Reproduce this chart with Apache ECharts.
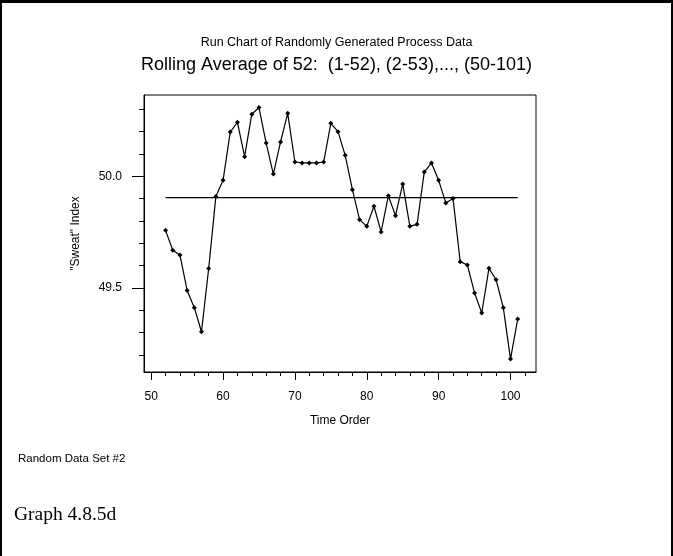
<!DOCTYPE html>
<html>
<head>
<meta charset="utf-8">
<script src="https://cdn.jsdelivr.net/npm/echarts@6/dist/echarts.min.js"></script>
<style>
  html, body { margin: 0; padding: 0; background: #fff; }
  #chart { width: 673px; height: 556px; }
</style>
</head>
<body>
<div id="chart"></div>
<script>
// time order of each rolling average (52 = samples 1-52 ... 101 = samples 50-101)
var timeOrder = [52, 53, 54, 55, 56, 57, 58, 59, 60, 61, 62, 63, 64, 65, 66, 67, 68, 69, 70, 71,
                 72, 73, 74, 75, 76, 77, 78, 79, 80, 81, 82, 83, 84, 85, 86, 87, 88, 89, 90, 91,
                 92, 93, 94, 95, 96, 97, 98, 99, 100, 101];
// "Sweat" index
var sweatIndex = [49.758, 49.669, 49.648, 49.489, 49.412, 49.304, 49.587, 49.910, 49.982, 50.198,
                  50.242, 50.088, 50.278, 50.308, 50.149, 50.010, 50.154, 50.282, 50.064, 50.060,
                  50.060, 50.060, 50.064, 50.237, 50.200, 50.094, 49.940, 49.806, 49.776, 49.866,
                  49.751, 49.913, 49.824, 49.966, 49.776, 49.785, 50.019, 50.060, 49.982, 49.881,
                  49.901, 49.618, 49.603, 49.478, 49.388, 49.588, 49.537, 49.412, 49.182, 49.361];
// centre line
var centerLine = 49.905;

// tick labels / tick marks
var xLabels = [50, 60, 70, 80, 90, 100];
var xMinorTicks = [52, 54, 56, 58, 62, 64, 66, 68, 72, 74, 76, 78, 82, 84, 86, 88, 92, 94, 96, 98, 102];
var yLabels = [49.5, 50.0];
var yMinorTicks = [49.2, 49.3, 49.4, 49.6, 49.7, 49.8, 49.9, 50.1, 50.2, 50.3];

var FONT = 'Liberation Sans';
var X_MIN = 49, X_MAX = 103.55;
var Y_MIN = 49.124, Y_MAX = 50.364;

var chart = echarts.init(document.getElementById('chart'), null, { renderer: 'canvas' });

var lineData = timeOrder.map(function (t, i) { return [t, sweatIndex[i]]; });
var centerData = [[timeOrder[0], centerLine], [timeOrder[timeOrder.length - 1], centerLine]];

var blackLine = { lineStyle: { color: '#000', width: 1 } };

var option = {
  backgroundColor: '#fff',
  animation: false,
  textStyle: { fontFamily: FONT, color: '#000' },
  title: [
    { text: 'Run Chart of Randomly Generated Process Data', left: 'center', top: 31,
      textStyle: { fontFamily: FONT, fontSize: 12.5, fontWeight: 'normal', color: '#000' } },
    { text: 'Rolling Average of 52:  (1-52), (2-53),..., (50-101)', left: 'center', top: 51,
      textStyle: { fontFamily: FONT, fontSize: 18, fontWeight: 'normal', color: '#000' } }
  ],
  grid: { left: 144, right: 137, top: 95, bottom: 184, show: true, borderColor: '#000', borderWidth: 1, backgroundColor: 'transparent' },
  xAxis: [
    {
      type: 'value', min: X_MIN, max: X_MAX,
      name: 'Time Order', nameLocation: 'middle', nameGap: 43,
      nameTextStyle: { fontFamily: FONT, fontSize: 12, color: '#000' },
      axisLine: blackLine,
      axisTick: { show: true, inside: false, length: 8, customValues: xLabels, lineStyle: { color: '#000' } },
      axisLabel: { customValues: xLabels, margin: 19, fontFamily: FONT, fontSize: 12, color: '#000' },
      splitLine: { show: false }
    },
    {
      type: 'value', min: X_MIN, max: X_MAX, position: 'bottom',
      axisLine: { show: false },
      axisTick: { show: true, length: 4, customValues: xMinorTicks, lineStyle: { color: '#000' } },
      axisLabel: { show: false },
      splitLine: { show: false }
    }
  ],
  yAxis: [
    {
      type: 'value', min: Y_MIN, max: Y_MAX,
      name: '"Sweat" Index', nameLocation: 'middle', nameGap: 62, nameRotate: 90,
      nameTextStyle: { fontFamily: FONT, fontSize: 12, color: '#000' },
      axisLine: blackLine,
      axisTick: { show: true, length: 12, customValues: yLabels, lineStyle: { color: '#000' } },
      axisLabel: { customValues: yLabels, margin: 22, fontFamily: FONT, fontSize: 12, color: '#000',
                   formatter: function (v) { return v.toFixed(1); } },
      splitLine: { show: false }
    },
    {
      type: 'value', min: Y_MIN, max: Y_MAX, position: 'left',
      axisLine: { show: false },
      axisTick: { show: true, length: 5, customValues: yMinorTicks, lineStyle: { color: '#000' } },
      axisLabel: { show: false },
      splitLine: { show: false }
    }
  ],
  series: [
    {
      type: 'line', data: centerData, symbol: 'none',
      lineStyle: { color: '#000', width: 1.2 }, silent: true
    },
    {
      type: 'line', data: lineData,
      symbol: 'diamond', symbolSize: 5, showSymbol: true,
      itemStyle: { color: '#000' },
      lineStyle: { color: '#000', width: 1.2 }
    }
  ],
  graphic: [
    // outer frame (no bottom edge in the original)
    { type: 'rect', shape: { x: 0, y: 0, width: 673, height: 3 }, style: { fill: '#000' } },
    { type: 'rect', shape: { x: 0, y: 0, width: 2, height: 556 }, style: { fill: '#000' } },
    { type: 'rect', shape: { x: 671, y: 0, width: 2, height: 556 }, style: { fill: '#000' } },
    { type: 'text', left: 18, top: 453,
      style: { text: 'Random Data Set #2', fontFamily: FONT, fontSize: 11.5, fill: '#000' } },
    { type: 'text', left: 14, top: 505,
      style: { text: 'Graph 4.8.5d', fontFamily: 'Liberation Serif', fontSize: 19.5, fill: '#000' } }
  ]
};

chart.setOption(option);
</script>
</body>
</html>
